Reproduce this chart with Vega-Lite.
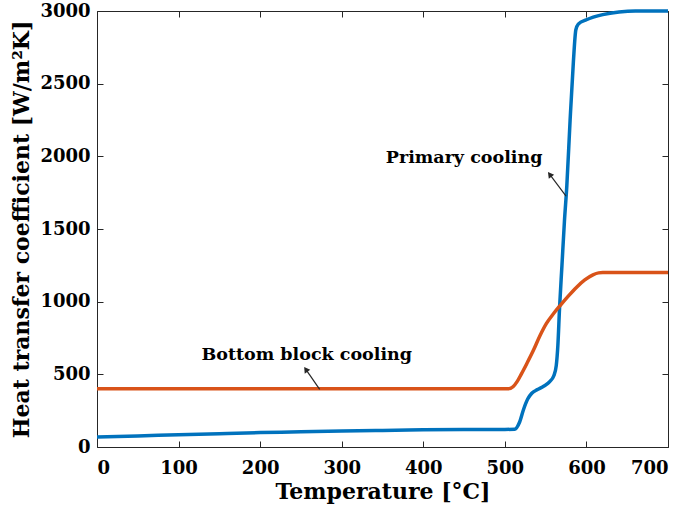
{
  "$schema": "https://vega.github.io/schema/vega-lite/v6.json",
  "autosize": "none",
  "width": 571,
  "height": 436,
  "padding": {"left": 97, "top": 11, "right": 17, "bottom": 74},
  "background": "white",
  "config": {
    "view": {"stroke": "#262626", "strokeWidth": 1},
    "axis": {
      "labelFont": "DejaVu Serif", "labelFontWeight": "bold", "labelFontSize": 18, "labelColor": "black",
      "titleFont": "DejaVu Serif", "titleFontWeight": "bold", "titleFontSize": 22, "titleColor": "black",
      "grid": false, "domain": false, "tickColor": "#262626", "tickSize": -6, "tickWidth": 1, "format": "d"
    }
  },
  "datasets": {
    "curves": [
      {"series": "Primary cooling", "T": 0, "h": 68},
      {"series": "Primary cooling", "T": 50, "h": 76},
      {"series": "Primary cooling", "T": 100, "h": 84},
      {"series": "Primary cooling", "T": 150, "h": 92},
      {"series": "Primary cooling", "T": 200, "h": 99},
      {"series": "Primary cooling", "T": 250, "h": 105},
      {"series": "Primary cooling", "T": 300, "h": 110},
      {"series": "Primary cooling", "T": 350, "h": 114},
      {"series": "Primary cooling", "T": 400, "h": 118},
      {"series": "Primary cooling", "T": 450, "h": 120},
      {"series": "Primary cooling", "T": 500, "h": 121},
      {"series": "Primary cooling", "T": 512, "h": 122},
      {"series": "Primary cooling", "T": 518, "h": 170},
      {"series": "Primary cooling", "T": 523, "h": 260},
      {"series": "Primary cooling", "T": 528, "h": 330},
      {"series": "Primary cooling", "T": 533, "h": 370},
      {"series": "Primary cooling", "T": 540, "h": 395},
      {"series": "Primary cooling", "T": 548, "h": 420},
      {"series": "Primary cooling", "T": 555, "h": 450},
      {"series": "Primary cooling", "T": 560, "h": 490},
      {"series": "Primary cooling", "T": 563, "h": 560},
      {"series": "Primary cooling", "T": 565, "h": 700},
      {"series": "Primary cooling", "T": 567, "h": 950},
      {"series": "Primary cooling", "T": 570, "h": 1250},
      {"series": "Primary cooling", "T": 573, "h": 1550},
      {"series": "Primary cooling", "T": 576, "h": 1800},
      {"series": "Primary cooling", "T": 580, "h": 2250},
      {"series": "Primary cooling", "T": 584, "h": 2650},
      {"series": "Primary cooling", "T": 587, "h": 2870},
      {"series": "Primary cooling", "T": 590, "h": 2910},
      {"series": "Primary cooling", "T": 600, "h": 2940},
      {"series": "Primary cooling", "T": 620, "h": 2975},
      {"series": "Primary cooling", "T": 640, "h": 2993},
      {"series": "Primary cooling", "T": 660, "h": 3000},
      {"series": "Primary cooling", "T": 700, "h": 3000},
      {"series": "Bottom block cooling", "T": 0, "h": 400},
      {"series": "Bottom block cooling", "T": 504, "h": 400},
      {"series": "Bottom block cooling", "T": 510, "h": 415},
      {"series": "Bottom block cooling", "T": 515, "h": 450},
      {"series": "Bottom block cooling", "T": 520, "h": 500},
      {"series": "Bottom block cooling", "T": 527, "h": 575},
      {"series": "Bottom block cooling", "T": 535, "h": 665},
      {"series": "Bottom block cooling", "T": 543, "h": 765},
      {"series": "Bottom block cooling", "T": 551, "h": 850},
      {"series": "Bottom block cooling", "T": 560, "h": 920},
      {"series": "Bottom block cooling", "T": 568, "h": 975},
      {"series": "Bottom block cooling", "T": 578, "h": 1040},
      {"series": "Bottom block cooling", "T": 588, "h": 1100},
      {"series": "Bottom block cooling", "T": 598, "h": 1150},
      {"series": "Bottom block cooling", "T": 608, "h": 1185},
      {"series": "Bottom block cooling", "T": 615, "h": 1198},
      {"series": "Bottom block cooling", "T": 620, "h": 1200},
      {"series": "Bottom block cooling", "T": 700, "h": 1200}
    ],
    "labels": [
      {"label": "Primary cooling", "T": 354, "h": 1986},
      {"label": "Bottom block cooling", "T": 128, "h": 630}
    ],
    "arrow1": [{"T": 575, "h": 1726, "T2": 555, "h2": 1876}],
    "arrow2": [{"T": 273, "h": 397, "T2": 256, "h2": 534}]
  },
  "layer": [
    {
      "data": {"name": "curves"},
      "mark": {"type": "line", "strokeWidth": 3.5, "interpolate": "monotone"},
      "encoding": {
        "x": {"field": "T", "type": "quantitative", "scale": {"domain": [0, 700], "nice": false},
              "axis": {"values": [0,100,200,300,400,500,600,700], "title": "Temperature [°C]", "labelPadding": 18, "titlePadding": 4}},
        "y": {"field": "h", "type": "quantitative", "scale": {"domain": [0, 3000], "nice": false},
              "axis": {"values": [0,500,1000,1500,2000,2500,3000], "title": "Heat transfer coefficient [W/m²K]", "labelPadding": 13, "titlePadding": 6}},
        "color": {"field": "series", "type": "nominal", "legend": null,
                  "scale": {"domain": ["Primary cooling", "Bottom block cooling"], "range": ["#0072BD", "#D95319"]}},
        "detail": {"field": "series"}
      }
    },
    {
      "data": {"name": "curves"},
      "mark": {"type": "line", "opacity": 0},
      "encoding": {
        "x": {"field": "T", "type": "quantitative",
              "axis": {"orient": "top", "values": [0,100,200,300,400,500,600,700], "labels": false, "title": null}},
        "y": {"field": "h", "type": "quantitative",
              "axis": {"orient": "right", "values": [0,500,1000,1500,2000,2500,3000], "labels": false, "title": null}},
        "detail": {"field": "series"}
      }
    },
    {
      "data": {"name": "labels"},
      "mark": {"type": "text", "align": "left", "baseline": "middle", "font": "DejaVu Serif", "fontWeight": "bold", "fontSize": 17.5, "color": "black"},
      "encoding": {
        "x": {"field": "T", "type": "quantitative", "axis": null},
        "y": {"field": "h", "type": "quantitative", "axis": null},
        "text": {"field": "label"}
      }
    },
    {
      "data": {"name": "arrow1"},
      "layer": [
        {"mark": {"type": "rule", "color": "#262626", "strokeWidth": 1.2},
         "encoding": {"x": {"field": "T", "type": "quantitative", "axis": null}, "y": {"field": "h", "type": "quantitative", "axis": null},
                      "x2": {"field": "T2"}, "y2": {"field": "h2"}}},
        {"mark": {"type": "point", "shape": "triangle-up", "filled": true, "color": "#262626", "size": 45, "angle": 323, "opacity": 1},
         "encoding": {"x": {"field": "T2", "type": "quantitative", "axis": null}, "y": {"field": "h2", "type": "quantitative", "axis": null}}}
      ]
    },
    {
      "data": {"name": "arrow2"},
      "layer": [
        {"mark": {"type": "rule", "color": "#262626", "strokeWidth": 1.2},
         "encoding": {"x": {"field": "T", "type": "quantitative", "axis": null}, "y": {"field": "h", "type": "quantitative", "axis": null},
                      "x2": {"field": "T2"}, "y2": {"field": "h2"}}},
        {"mark": {"type": "point", "shape": "triangle-up", "filled": true, "color": "#262626", "size": 45, "angle": 325, "opacity": 1},
         "encoding": {"x": {"field": "T2", "type": "quantitative", "axis": null}, "y": {"field": "h2", "type": "quantitative", "axis": null}}}
      ]
    }
  ],
  "resolve": {"axis": {"x": "independent", "y": "independent"}}
}
